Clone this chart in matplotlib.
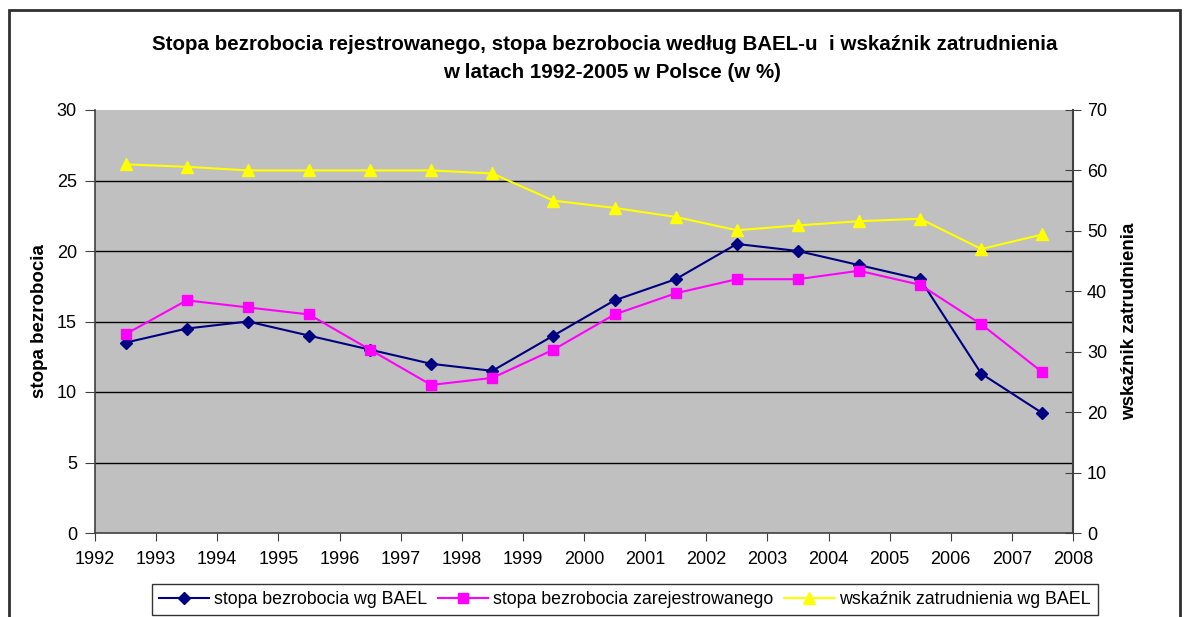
import matplotlib
matplotlib.use("Agg")
import matplotlib.pyplot as plt
from matplotlib.patches import Rectangle

plt.rcParams['font.family'] = ['Liberation Sans', 'DejaVu Sans']

years = [1992, 1993, 1994, 1995, 1996, 1997, 1998, 1999, 2000, 2001, 2002, 2003, 2004, 2005, 2006, 2007]
tick_years = list(range(1992, 2009))
bael = [13.5, 14.5, 15.0, 14.0, 13.0, 12.0, 11.5, 14.0, 16.5, 18.0, 20.5, 20.0, 19.0, 18.0, 11.3, 8.5]
zarejestr = [14.1, 16.5, 16.0, 15.5, 13.0, 10.5, 11.0, 13.0, 15.5, 17.0, 18.0, 18.0, 18.6, 17.6, 14.8, 11.4]
zatrudn = [61.0, 60.6, 60.0, 60.0, 60.0, 60.0, 59.5, 55.0, 53.8, 52.3, 50.1, 50.9, 51.6, 52.0, 47.0, 49.4]

labels = ['stopa bezrobocia wg BAEL', 'stopa bezrobocia zarejestrowanego', 'wskaźnik zatrudnienia wg BAEL']

W, H = 1191, 617
fig = plt.figure(figsize=(W / 100, H / 100), dpi=100)
ax = fig.add_axes([95 / W, 1 - 533 / H, (1073 - 95) / W, (533 - 110) / H])
ax2 = ax.twinx()

xs = [y + 0.5 for y in years]

ax.set_facecolor('#C0C0C0')
ax.set_xlim(1992, 2008)
ax.set_ylim(0, 30)
ax.set_yticks(range(0, 31, 5))
ax.set_xticks(tick_years)
ax.set_xticklabels([str(t) for t in tick_years])
for v in range(5, 30, 5):
    ax.axhline(v, color='black', lw=1.0, zorder=1)

l1, = ax.plot(xs, bael, color='#000080', marker='D', markersize=6, lw=1.5, zorder=3, label=labels[0])
l2, = ax.plot(xs, zarejestr, color='#FF00FF', marker='s', markersize=7, lw=1.5, zorder=3, label=labels[1])
l3, = ax2.plot(xs, zatrudn, color='#FFFF00', marker='^', markersize=8, lw=1.5, zorder=3, label=labels[2])

ax2.set_ylim(0, 70)
ax2.set_yticks(range(0, 71, 10))

for a in (ax, ax2):
    for s in a.spines.values():
        s.set_visible(False)
ax.spines['left'].set_visible(True)
ax.spines['left'].set_color('#404040')
ax.spines['left'].set_linewidth(1.2)
ax.spines['bottom'].set_visible(True)
ax.spines['bottom'].set_color('#404040')
ax.spines['bottom'].set_linewidth(1.2)
ax2.spines['right'].set_visible(True)
ax2.spines['right'].set_color('#404040')
ax2.spines['right'].set_linewidth(1.5)

ax.tick_params(axis='y', direction='out', length=7, labelsize=13, color='#404040', pad=6)
ax.tick_params(axis='x', direction='out', length=6, labelsize=13, color='#404040', pad=7)
ax2.tick_params(axis='y', direction='inout', length=12, labelsize=13, color='#404040', pad=4)

ax.set_ylabel('stopa bezrobocia', fontsize=13.5, fontweight='bold', labelpad=6)
ax2.set_ylabel('wskaźnik zatrudnienia', fontsize=13.5, fontweight='bold', labelpad=10)

fig.text(605 / W, 1 - 44 / H,
         'Stopa bezrobocia rejestrowanego, stopa bezrobocia według BAEL-u  i wskaźnik zatrudnienia',
         ha='center', va='center', fontsize=14.8, fontweight='bold')
fig.text(612 / W, 1 - 73 / H, 'w latach 1992-2005 w Polsce (w %)',
         ha='center', va='center', fontsize=14.8, fontweight='bold')

leg = fig.legend(handles=[l1, l2, l3], loc='upper center', bbox_to_anchor=(625 / W, 1 - 584 / H),
                 ncol=3, fontsize=12.8, frameon=True, fancybox=False, edgecolor='black',
                 handlelength=2.8, handletextpad=0.3, columnspacing=0.6, borderpad=0.4,
                 borderaxespad=0)
leg.get_frame().set_linewidth(1.0)

fig.patches.append(Rectangle((9 / W, -0.05), (1180 - 9) / W, 1 - 10 / H + 0.05,
                             transform=fig.transFigure, fill=False, edgecolor='#303030', lw=2))

fig.savefig('out.png', dpi=100)
